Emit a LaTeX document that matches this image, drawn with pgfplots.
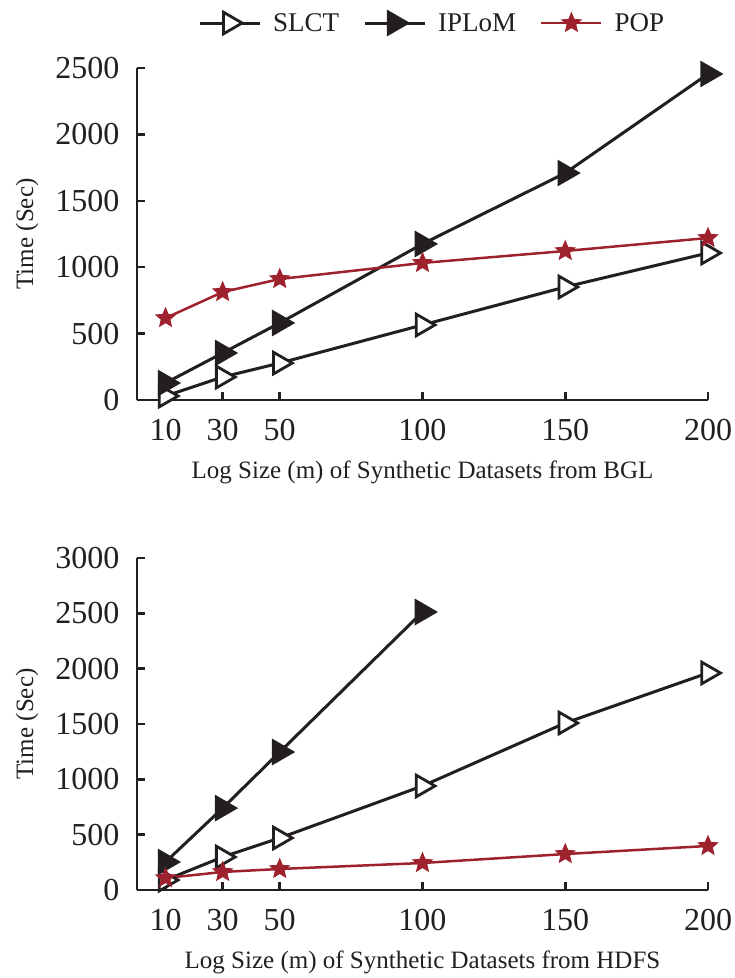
\documentclass[border=0pt]{standalone}
\usepackage{fontspec}
\setmainfont{Liberation Serif}
\usepackage{pgfplots}
\pgfplotsset{compat=1.18}
\definecolor{blk}{RGB}{35,31,32}
\definecolor{popred}{RGB}{158,33,46}
\pgfdeclareplotmark{fstar}{%
  \pgfpathmoveto{\pgfqpointpolar{90}{\pgfplotmarksize}}%
  \pgfpathlineto{\pgfqpointpolar{126}{0.45\pgfplotmarksize}}%
  \pgfpathlineto{\pgfqpointpolar{162}{\pgfplotmarksize}}%
  \pgfpathlineto{\pgfqpointpolar{198}{0.45\pgfplotmarksize}}%
  \pgfpathlineto{\pgfqpointpolar{234}{\pgfplotmarksize}}%
  \pgfpathlineto{\pgfqpointpolar{270}{0.45\pgfplotmarksize}}%
  \pgfpathlineto{\pgfqpointpolar{306}{\pgfplotmarksize}}%
  \pgfpathlineto{\pgfqpointpolar{342}{0.45\pgfplotmarksize}}%
  \pgfpathlineto{\pgfqpointpolar{18}{\pgfplotmarksize}}%
  \pgfpathlineto{\pgfqpointpolar{54}{0.45\pgfplotmarksize}}%
  \pgfpathclose
  \pgfusepathqfillstroke
}
\pgfplotsset{common/.style={
 scale only axis, width=571pt, height=332pt,
 axis lines*=left, tick align=inside,
 xmin=0, xmax=200,
 xtick={10,30,50,100,150,200},
 major tick length=8pt,
 axis line style={line width=2.8pt, blk},
 every tick/.style={line width=2.5pt, blk},
 /pgf/number format/assume math mode=true,
 /pgf/number format/set thousands separator={},
 scaled y ticks=false,
 tick label style={font=\fontsize{32}{32}\selectfont, text=blk},
 yticklabel style={xshift=-14pt},
 xticklabel style={yshift=-16pt},
 label style={font=\fontsize{25}{25}\selectfont, text=blk},
 ylabel={Time (Sec)},
 ylabel style={at={(axis description cs:-0.1926,0.5)}, anchor=center},
 xlabel style={at={(axis description cs:0.5,0)}, anchor=base, yshift=-78pt},
 clip=false,
 slct/.style={blk, line width=3pt, mark=triangle*, mark size=12.5pt, mark options={rotate=-90, fill=white, line width=2.8pt, solid}},
 iplom/.style={blk, line width=3pt, mark=triangle*, mark size=12.5pt, mark options={rotate=-90, fill=blk, solid}},
 pop/.style={popred, line width=2.5pt, mark=fstar, mark size=10pt, mark options={fill=popred, line width=1pt, solid}},
}}
\begin{document}
\begin{tikzpicture}
\path[use as bounding box] (-137pt,-578pt) rectangle (598pt,400pt);
\begin{axis}[common,
 ymin=0, ymax=2500, ytick={0,500,1000,1500,2000,2500},
 xlabel={Log Size (m) of Synthetic Datasets from BGL},
 legend columns=3,
 legend style={at={(axis description cs:0.517,1.1355)}, anchor=center, draw=none, fill=none,
   font=\fontsize{27}{27}\selectfont, text=blk,
   /tikz/every odd column/.append style={column sep=10pt},
   /tikz/every even column/.append style={column sep=22pt}},
 legend image code/.code={\draw[mark repeat=2,mark phase=2] plot coordinates {(0pt,0pt) (30pt,0pt) (60pt,0pt)};},
]
\addplot[slct] coordinates {(10,30) (30,173) (50,278) (100,565) (150,851) (200,1107)};
\addlegendentry{SLCT}
\addplot[iplom] coordinates {(10,128) (30,354) (50,580) (100,1175) (150,1709) (200,2455)};
\addlegendentry{IPLoM}
\addplot[pop] coordinates {(10,617) (30,813) (50,911) (100,1032) (150,1122) (200,1220)};
\addlegendentry{POP}
\end{axis}
\begin{axis}[common, at={(0pt,-490pt)},
 ymin=0, ymax=3000, ytick={0,500,1000,1500,2000,2500,3000},
 xlabel={Log Size (m) of Synthetic Datasets from HDFS},
]
\addplot[slct] coordinates {(10,90) (30,298) (50,470) (100,940) (150,1509) (200,1961)};
\addplot[iplom] coordinates {(10,253) (30,740) (50,1247) (100,2512)};
\addplot[pop] coordinates {(10,108) (30,163) (50,190) (100,244) (150,325) (200,398)};
\end{axis}
\end{tikzpicture}
\end{document}
